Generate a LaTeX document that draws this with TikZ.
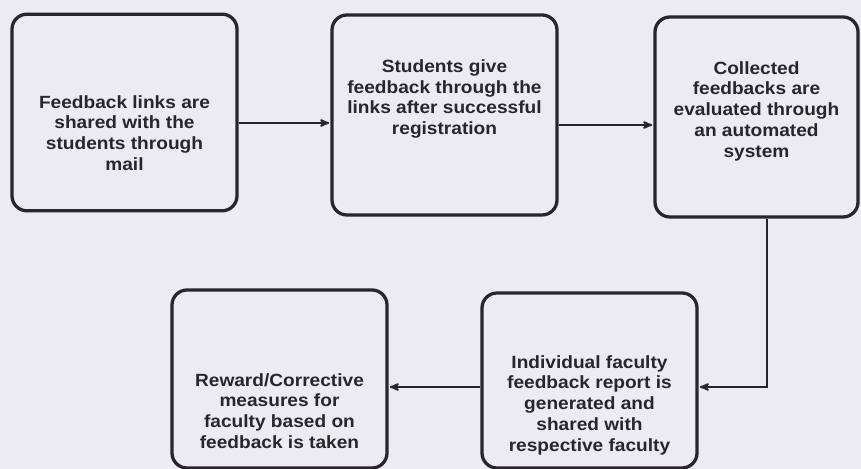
\documentclass[tikz,border=0pt]{standalone}
\usepackage{fontspec}
\setmainfont{Liberation Sans}[FakeStretch=1.08]
\usepackage{tikz}
\usetikzlibrary{arrows,calc,positioning}
\definecolor{paper}{RGB}{237,235,242}
\definecolor{ink}{RGB}{40,38,42}

\begin{document}
\begin{tikzpicture}[ >=stealth', shorten >=1pt, node distance=2cm, on grid]

	\tikzset{
		fbbox/.style = {rectangle, rounded corners=0.45cm, draw=ink, line width=2.8pt,
			minimum width=6.75cm, minimum height=5.9cm},
		fbtext/.style = {align=center, text=ink, font=\bfseries\fontsize{15.1}{17.7}\selectfont}
	}

	% page
	\useasboundingbox (0,0) rectangle (25.83,-14.07);
	\fill[paper] (0,0) rectangle (25.83,-14.07);

	% boxes
	\node[fbbox] (mail) at (3.735,-3.375) {};
	\node[fbbox, minimum height=6cm] (give) [right = 9.6cm of mail, yshift = -0.075cm] {};
	\node[fbbox, minimum width=6.09cm, minimum height=6cm] (eval) [right = 9.36cm of give, yshift = -0.06cm] {};
	\node[fbbox, minimum width=6.45cm, minimum height=5.25cm] (report) [below = 7.905cm of eval, xshift = -5.01cm] {};
	\node[fbbox, minimum width=6.45cm, minimum height=5.34cm] (reward) [left = 9.3cm of report, yshift = 0.045cm] {};

	% texts
	\node[fbtext] (t1) at ([yshift = -0.615cm]mail.center) {Feedback links are\\ shared with the\\ students through\\ mail};
	\node[fbtext] (t2) at ([yshift = 0.48cm]give.center) {Students give\\ feedback through the\\ links after successful\\ registration};
	\node[fbtext] (t3) at ([yshift = 0.18cm]eval.center) {Collected\\ feedbacks are\\ evaluated through\\ an automated\\ system};
	\node[fbtext] (t4) at ([yshift = -0.735cm]report.center) {Individual faculty\\ feedback report is\\ generated and\\ shared with\\ respective faculty};
	\node[fbtext] (t5) at ([yshift = -0.96cm]reward.center) {Reward/Corrective\\ measures for\\ faculty based on\\ feedback is taken};

	\path[->, ink, line width=1.6pt]
	([yshift = -0.315cm]mail.east) edge node {} ([yshift = -0.24cm]give.west)
	([yshift = -0.3cm]give.east) edge node {} ([yshift = -0.24cm]eval.west)
	([yshift = -0.195cm]report.west) edge node {} ([yshift = -0.24cm]reward.east)
	;

	\draw[->, ink, line width=1.6pt] ([xshift = 0.315cm]eval.south) |- ([yshift = -0.195cm]report.east);

\end{tikzpicture}
\end{document}
